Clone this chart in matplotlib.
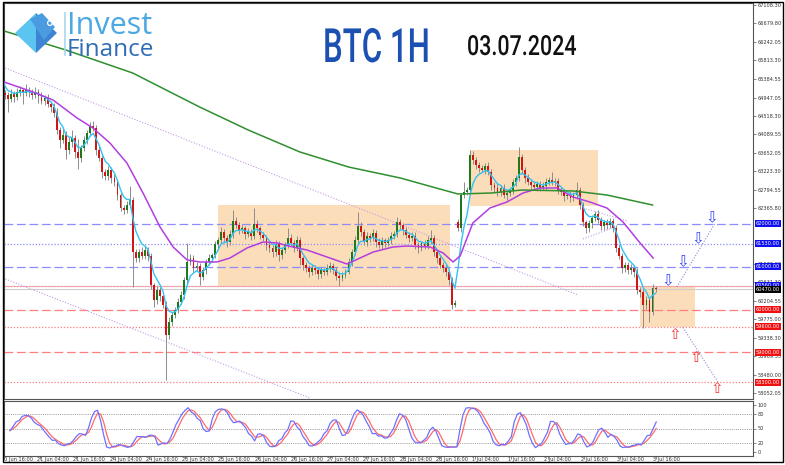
import matplotlib
matplotlib.use('Agg')
import matplotlib.pyplot as plt
from matplotlib.patches import Rectangle, Polygon, Circle
from matplotlib.patheffects import AbstractPathEffect
from matplotlib.transforms import Bbox, TransformedBbox, Affine2D, blended_transform_factory
import numpy as np
import pandas as pd

W, H = 785, 465

# BTC 1H candles (one bar per hour), opens follow the previous close
first_open = 65050
gap_open = {149: 62040}   # weekend gap
close = [
    65010, 64910, 65030, 64960, 65080, 65120, 65050, 65120, 65080, 65010, 65080, 64980,
    64870, 64940, 64800, 64730, 64590, 64190, 63960, 64070, 63720, 63910, 64000, 63680,
    63540, 63770, 63960, 64120, 64280, 64240, 63720, 63540, 63210, 63120, 63260, 63070,
    62980, 62670, 62370, 62320, 62440, 62560, 61340, 61200, 61340, 61250, 61390, 61250,
    60570, 60220, 60460, 60320, 60110, 59410, 59710, 59870, 59990, 60180, 60340, 60690,
    61110, 61200, 60970, 61020, 60760, 60920, 61110, 61200, 61270, 61530, 61620, 61810,
    61670, 61580, 61760, 62070, 61970, 61860, 61900, 61760, 61810, 61720, 62000, 61900,
    61740, 61670, 61510, 61440, 61340, 61530, 61270, 61390, 61510, 61670, 61550, 61440,
    61620, 61200, 61040, 60970, 60880, 60970, 60920, 60830, 60920, 60880, 60970, 61020,
    60920, 60780, 60740, 60810, 60880, 61110, 61340, 61620, 61950, 61810, 61580, 61720,
    61670, 61790, 61580, 61510, 61620, 61550, 61620, 61720, 61760, 62040, 61970, 61860,
    61740, 61670, 61720, 61510, 61440, 61550, 61480, 61620, 61670, 61340, 61200, 61040,
    60970, 60880, 60690, 60110, 60150, 61900, 62670, 62740, 62790, 63610, 63490, 63370,
    63300, 63260, 63350, 63210, 62910, 62840, 62740, 62840, 62670, 62720, 62790, 62980,
    63070, 63560, 63260, 63070, 62980, 62910, 62860, 62930, 62840, 62880, 62980, 63020,
    62980, 63000, 62790, 62740, 62650, 62670, 62600, 62670, 62790, 62440, 62040, 61900,
    62020, 62140, 62230, 62090, 61950, 62040, 61970, 62070, 61900, 61440, 61250, 60970,
    61040, 60920, 60970, 60880, 60460, 60410, 60110, 60220, 59940, 60500, 60470,
]
upper_wick = [
    80, 60, 120, 70, 90, 100, 60, 140, 80, 60, 110, 70,
    90, 70, 100, 60, 80, 120, 60, 150, 90, 110, 200, 80,
    300, 80, 90, 60, 100, 130, 70, 100, 60, 80, 90, 70,
    90, 70, 60, 80, 100, 320, 60, 80, 70, 120, 90, 60,
    80, 60, 90, 70, 60, 80, 110, 70, 60, 80, 90, 70,
    440, 100, 70, 90, 60, 80, 70, 90, 60, 80, 70, 110,
    80, 60, 100, 250, 90, 70, 80, 60, 100, 70, 370, 90,
    60, 80, 70, 90, 60, 100, 70, 80, 60, 230, 90, 70,
    90, 70, 60, 80, 70, 90, 60, 80, 70, 60, 90, 80,
    60, 70, 80, 60, 70, 90, 80, 100, 330, 90, 70, 80,
    70, 80, 60, 90, 70, 60, 80, 90, 70, 120, 80, 60,
    70, 60, 90, 80, 70, 60, 80, 90, 190, 70, 60, 80,
    60, 80, 70, 60, 70, 80, 60, 240, 80, 120, 90, 80,
    70, 80, 60, 90, 70, 60, 80, 70, 90, 60, 80, 70,
    80, 230, 70, 60, 90, 70, 80, 60, 70, 90, 80, 70,
    190, 70, 60, 80, 70, 60, 90, 70, 190, 80, 70, 60,
    70, 60, 80, 90, 70, 60, 80, 70, 60, 80, 90, 70,
    80, 70, 90, 60, 80, 70, 60, 90, 70, 100, 60,
]
lower_wick = [
    100, 300, 60, 120, 80, 90, 250, 60, 130, 90, 70, 150,
    80, 100, 70, 120, 90, 100, 180, 80, 200, 90, 120, 150,
    250, 90, 70, 100, 60, 80, 110, 80, 140, 90, 100, 120,
    100, 120, 80, 90, 70, 60, 810, 90, 100, 70, 80, 110,
    100, 160, 90, 120, 80, 1050, 100, 90, 70, 80, 60, 90,
    90, 70, 100, 80, 190, 60, 90, 70, 80, 60, 90, 70,
    110, 130, 70, 90, 60, 100, 80, 120, 70, 90, 80, 100,
    100, 70, 120, 90, 110, 80, 130, 90, 70, 80, 60, 100,
    80, 150, 110, 90, 130, 70, 100, 120, 90, 80, 70, 100,
    90, 100, 190, 80, 70, 60, 90, 70, 60, 100, 80, 90,
    100, 80, 110, 70, 90, 80, 60, 100, 80, 70, 90, 110,
    80, 100, 70, 90, 110, 80, 70, 60, 90, 100, 120, 80,
    90, 100, 120, 100, 60, 60, 80, 70, 60, 90, 100, 80,
    80, 60, 90, 70, 110, 90, 80, 100, 70, 120, 80, 90,
    90, 80, 100, 110, 80, 90, 70, 100, 80, 60, 90, 80,
    80, 90, 100, 70, 110, 80, 90, 70, 80, 90, 100, 120,
    90, 110, 80, 70, 100, 90, 80, 70, 90, 100, 80, 110,
    90, 100, 80, 110, 90, 120, 540, 100, 230, 70, 60,
]

ema_seed = 65310
# moving averages: (bar, price)
purple_ma = [(-0.3, 65311), (9.2, 65078), (15.8, 64891), (23.7, 64471), (28.9, 64238),
             (34.5, 63888), (40.1, 63420), (45.4, 62720), (51, 61927), (55.3, 61460),
             (59.9, 61157), (64.1, 61110), (69.7, 61110), (74, 61203), (79.6, 61437),
             (84.9, 61577), (89.5, 61554), (94.7, 61460), (99.3, 61390), (105.9, 61227),
             (112.5, 61063), (116.8, 61203), (121.1, 61343), (127.6, 61460), (132.2, 61483),
             (139.8, 61460), (144.1, 61320), (147.4, 61110), (149.7, 61250), (153.9, 62020),
             (159.5, 62370), (165.1, 62510), (170.4, 62720), (176, 62837), (181.6, 62837),
             (186.8, 62627), (192.4, 62510), (198, 62370), (203.3, 62043), (208.9, 61554),
             (213.2, 61203)]
green_ma = [(-0.3, 66502), (20, 66058), (42, 65521), (64, 64728), (80, 64191), (97, 63678),
            (113, 63327), (130, 63071), (143, 62814), (149, 62697), (160, 62720),
            (170, 62790), (187, 62767), (198, 62673), (213, 62440)]

time_labels = ['20 Jun 16:00', '21 Jun 04:00', '21 Jun 16:00', '24 Jun 04:00', '24 Jun 16:00',
               '25 Jun 04:00', '25 Jun 16:00', '26 Jun 04:00', '26 Jun 16:00', '27 Jun 04:00',
               '27 Jun 16:00', '28 Jun 04:00', '28 Jun 16:00', '1 Jul 04:00', '1 Jul 16:00',
               '2 Jul 04:00', '2 Jul 16:00', '3 Jul 04:00', '3 Jul 16:00']
label_bars = list(range(-2, 215, 12))

price_ticks = [67108.30, 66679.80, 66242.05, 65813.30, 65384.55, 64947.05, 64518.30,
               64089.55, 63652.05, 63223.30, 62794.55, 62365.80, 61070.80, 60631.30,
               60204.55, 59775.00, 59338.30, 58909.55, 58480.00, 58052.05]

levels = [62000, 61530, 61000, 60560, 60000, 59600, 59000, 58300]
level_kind = ['blue', 'blue', 'blue', 'blue', 'red', 'red', 'red', 'red']
level_style = [(0, (7, 3)), (0, (1, 1.5)), (0, (7, 3)), (0, (1, 1.5)),
               (0, (7, 3)), (0, (1, 1.5)), (0, (7, 3)), (0, (1, 1.5))]
bid, ask = 60470, 60540

# zones: (bar from, bar to, price low, price high)
zones = [(70, 146.4, 60527, 62440), (153, 195, 62417, 63724), (209, 227, 59592, 60527)]
# trend lines: ((bar, price), (bar, price))
trend_lines = [((-1.6, 65685), (188.5, 60339)), ((-0.7, 60736), (100.3, 57936)),
               ((190.1, 62370), (204.9, 62067)), ((190.1, 61647), (200.7, 61927))]
proj_lines = [((221, 60527), (233.6, 62020)), ((223, 59585), (234.5, 58309))]
down_arrows = [(218.1, 60667), (223, 61110), (228, 61647), (232.6, 62137)]
up_arrows = [(220.4, 59429), (227.3, 58869), (234.2, 58146)]


class Squeeze(AbstractPathEffect):
    """Narrow the glyphs horizontally around the text's left edge."""
    def __init__(self, sx, x0):
        super().__init__()
        self.sx = sx
        self.x0 = x0

    def draw_path(self, renderer, gc, tpath, affine, rgbFace=None):
        a = affine + Affine2D().translate(-self.x0, 0).scale(self.sx, 1).translate(self.x0, 0)
        renderer.draw_path(gc, tpath, a, rgbFace)


def squeeze_text(t, sx, x0):
    t.set_path_effects([Squeeze(sx, x0)])
    orig = t.get_window_extent

    def extent(renderer=None, dpi=None):
        bb = orig(renderer, dpi)
        return Bbox([[x0 + (bb.x0 - x0) * sx, bb.y0], [x0 + (bb.x1 - x0) * sx, bb.y1]])
    t.get_window_extent = extent


n = len(close)
idx = np.arange(n)
c = np.array(close, float)
o = np.concatenate([[first_open], c[:-1]])
for k, v in gap_open.items():
    o[k] = v
h = np.maximum(o, c) + np.array(upper_wick)
l = np.minimum(o, c) - np.array(lower_wick)

fig = plt.figure(figsize=(W / 100, H / 100), dpi=100)
fig.patch.set_facecolor('white')
ax = fig.add_axes([4 / W, 1 - 399 / H, 749 / W, 396 / H])
ax2 = fig.add_axes([4 / W, 1 - 456 / H, 749 / W, 55 / H])

for a in (ax, ax2):
    a.set_xlim(-0.33, 246.05)
    for s in a.spines.values():
        s.set_color('#555555')
        s.set_linewidth(0.8)
    a.yaxis.tick_right()
    a.tick_params(axis='y', direction='out', length=2, width=0.5, pad=1.5,
                  labelsize=3.6, labelcolor='#333333', colors='#555555')
ax.set_ylim(57912, 67155)
ax.set_xticks([])

for x0, x1, p0, p1 in zones:
    ax.add_patch(Rectangle((x0, p0), x1 - x0, p1 - p0, color='#FCDDBA', lw=0, zorder=0))

for lv, kind, ls in zip(levels, level_kind, level_style):
    col = '#8C8CFF' if kind == 'blue' else '#FF7F7F'
    ax.axhline(lv, color=col, lw=0.9, ls=ls, zorder=1)
ax.axhline(ask, color='#F4A6A6', lw=0.8, zorder=1)
ax.axhline(bid, color='#CCCCCC', lw=0.8, zorder=1)

for (x0, p0), (x1, p1) in trend_lines:
    ax.plot([x0, x1], [p0, p1], color='#C59BE3', lw=0.8, ls=(0, (1, 1.5)), zorder=1)
for (x0, p0), (x1, p1) in proj_lines:
    ax.plot([x0, x1], [p0, p1], color='#8A8AD8', lw=0.8, ls=(0, (1, 1.5)), zorder=1)

# candles
up = c >= o
ax.vlines(idx, l, h, color='#8C8C8C', lw=0.7, zorder=2)
body = np.maximum(np.abs(c - o), 18)
ax.bar(idx, body, bottom=np.minimum(o, c), width=0.62,
       color=np.where(up, '#1C7A1C', '#D41414'), lw=0, zorder=3)

# moving averages
ema = [ema_seed]
alpha = 2 / (5 + 1)
for v in c:
    ema.append(ema[-1] + alpha * (v - ema[-1]))
ax.plot(np.concatenate([[-0.33], idx]), ema, color='#33C3F2', lw=1.0, zorder=4)
ax.plot([p[0] for p in purple_ma], [p[1] for p in purple_ma], color='#B23EDF', lw=1.1, zorder=4)
ax.plot([p[0] for p in green_ma], [p[1] for p in green_ma], color='#2F8F2F', lw=1.1, zorder=4)

for x, p in down_arrows:
    ax.text(x, p, '\u21e9', color='#3A46F5', fontsize=11, ha='center', va='center', zorder=5)
for x, p in up_arrows:
    ax.text(x, p, '\u21e7', color='#F53A3A', fontsize=11, ha='center', va='center', zorder=5)

ax.set_yticks(price_ticks)
ax.set_yticklabels([f'{v:.2f}' for v in price_ticks])

tr = blended_transform_factory(ax.transAxes, ax.transData)
for lv, kind in zip(levels, level_kind):
    ax.text(1 + 3 / 749, lv, f'{lv:.2f}', transform=tr, ha='left', va='center', fontsize=3.6,
            color='white', clip_on=False, zorder=6,
            bbox=dict(boxstyle='square,pad=0.2', fc='#1010F0' if kind == 'blue' else '#F01010', ec='none'))
ax.text(1 + 3 / 749, bid, f'{bid:.2f}', transform=tr, ha='left', va='center', fontsize=3.6,
        color='white', clip_on=False, zorder=6,
        bbox=dict(boxstyle='square,pad=0.2', fc='black', ec='none'))

# stochastic (5,3,3)
cs, hs, ls_ = pd.Series(c), pd.Series(h), pd.Series(l)
hh = hs.rolling(5, min_periods=1).max()
ll = ls_.rolling(5, min_periods=1).min()
k_line = 100 * (cs - ll).rolling(3, min_periods=1).sum() / (hh - ll).rolling(3, min_periods=1).sum()
d_line = k_line.rolling(3, min_periods=1).mean()
ax2.set_ylim(-8.5, 108.5)
for lv in (20, 50, 80):
    ax2.axhline(lv, color='#999999', lw=0.7, ls=(0, (1, 1.2)))
ax2.plot(idx, d_line, color='#FF6A6A', lw=0.9)
ax2.plot(idx, k_line, color='#7070FF', lw=0.9)
ax2.set_yticks([0, 20, 50, 80, 100])
ax2.set_yticklabels(['0', '20', '50', '80', '100'])
ax2.set_xticks(label_bars)
ax2.set_xticklabels([])
ax2.tick_params(axis='x', direction='out', length=2, width=0.5, colors='#555555')

ttr = blended_transform_factory(ax2.transData, fig.transFigure)
clip = TransformedBbox(Bbox([[4 / W, 0], [1, 1]]), fig.transFigure)
for b, lab in zip(label_bars, time_labels):
    t = ax2.text(b - 1, 1 - 459.5 / H, lab, transform=ttr, ha='left', va='center',
                 fontsize=3.6, color='#333333', clip_on=True)
    t.set_clip_box(clip)

# overlay: frame, logo, title
ov = fig.add_axes([0, 0, 1, 1], zorder=10)
ov.set_xlim(0, W)
ov.set_ylim(H, 0)
ov.axis('off')
ov.patch.set_alpha(0)
ov.add_patch(Rectangle((3, 2), 780, 460, fill=False, ec='black', lw=1.0))

ov.add_patch(Polygon([(15, 33), (36, 13), (36, 53)], closed=True, fc='#5CC4F1', ec='none'))
ov.add_patch(Polygon([(36, 13), (57, 33), (36, 53)], closed=True, fc='#3E84D4', ec='none'))
ov.add_patch(Polygon([(30, 19), (42, 13), (55, 27), (44, 40)], closed=True, fc='#4A9BE0', ec='none'))
ov.add_patch(Circle((50, 23), 2.4, fill=False, ec='white', lw=0.9))
ov.plot([64.5, 64.5], [13, 55], color='#A8D6F2', lw=1.2)
ov.text(67, 34, 'Invest', fontsize=22, color='#4BA8E3', family='Open Sans', va='baseline')
ov.text(67, 56, 'Finance', fontsize=17.5, color='#2F6DB6', family='Open Sans', va='baseline')

title = ov.text(323, 62, 'BTC 1H', fontsize=34, color='#1D50B3', family='Roboto',
                weight='medium', va='baseline')
date = ov.text(467, 55, '03.07.2024', fontsize=20, color='#111111', family='Roboto',
               weight='medium', va='baseline')
fig.canvas.draw()
r = fig.canvas.get_renderer()
for t, x_left, want in ((title, 323, 107), (date, 467, 110)):
    wid = t.get_window_extent(r).width
    x0 = ov.transData.transform((x_left, 0))[0]
    squeeze_text(t, want / wid, x0)

fig.savefig('out.png', dpi=100)
